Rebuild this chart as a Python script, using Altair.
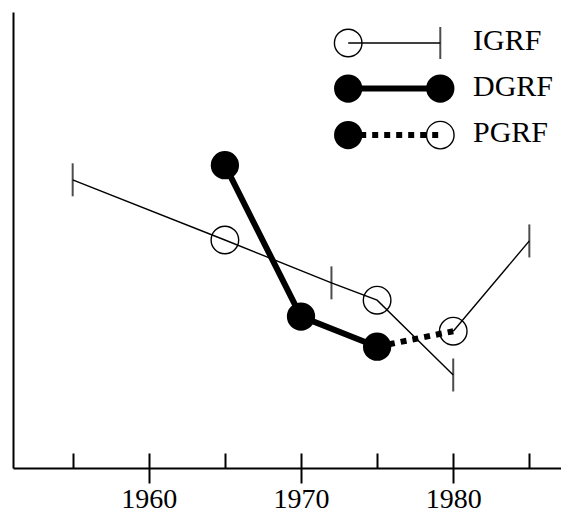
import altair as alt
import pandas as pd

# ---- data (arbitrary vertical units, the y axis is unlabelled) ----
igrf_years = [1955, 1965, 1972, 1975, 1980]
igrf_values = [63.2, 50.0, 40.6, 36.8, 20.4]
igrf_next_years = [1980, 1985]
igrf_next_values = [30.0, 49.8]
igrf_tick_years = [1955, 1972, 1980, 1985]
igrf_tick_values = [63.2, 40.6, 20.4, 49.8]
igrf_circle_years = [1965, 1975]
igrf_circle_values = [50.0, 36.8]
dgrf_years = [1965, 1970, 1975]
dgrf_values = [66.4, 33.2, 26.6]
pgrf_years = [1975, 1980]
pgrf_values = [26.6, 30.0]
pgrf_circle_years = [1980]
pgrf_circle_values = [30.0]

major_ticks = [1960, 1970, 1980]
minor_ticks = [1955, 1960, 1965, 1970, 1975, 1980, 1985]

legend_labels = ["IGRF", "DGRF", "PGRF"]

# ---- layout ----
W, H = 548, 456
FONT = "Liberation Serif"
xscale = alt.Scale(domain=[1951.08, 1987.08], nice=False, zero=False)
yscale = alt.Scale(domain=[0, 100], nice=False, zero=False)

# legend placement (in plot coordinates)
LEG_X0, LEG_X1, LEG_XT = 1973.1, 1979.15, 1981.3
LEG_ROWS = [93.2, 83.2, 73.0]


def df(xs, ys):
    return pd.DataFrame({"year": xs, "value": ys})


def X(axis=None):
    return alt.X("year:Q", scale=xscale, axis=axis)


def Y(axis=None):
    return alt.Y("value:Q", scale=yscale, axis=axis)


major_axis = alt.Axis(values=major_ticks, format="d", tickSize=15, tickWidth=2,
                      tickColor="black", domainColor="black", domainWidth=2,
                      labelFont=FONT, labelFontSize=28, labelColor="black",
                      labelPadding=2, labelFlush=False, grid=False, title=None)
minor_axis = alt.Axis(orient="bottom", offset=-15, values=minor_ticks, tickSize=15,
                      tickWidth=2, tickColor="black", domain=False, labels=False,
                      grid=False, title=None)
y_axis = alt.Axis(orient="left", domain=True, domainColor="black", domainWidth=2,
                  ticks=False, labels=False, grid=False, title=None)

CIRCLE = 760

igrf_line = alt.Chart(df(igrf_years, igrf_values)).mark_line(
    color="black", strokeWidth=1.4).encode(X(major_axis), Y(y_axis))
igrf_next = alt.Chart(df(igrf_next_years, igrf_next_values)).mark_line(
    color="black", strokeWidth=1.4).encode(X(minor_axis), Y())
igrf_ticks = alt.Chart(df(igrf_tick_years, igrf_tick_values)).mark_tick(
    orient="vertical", color="black", size=33, thickness=2).encode(X(), Y())
igrf_circles = alt.Chart(df(igrf_circle_years, igrf_circle_values)).mark_point(
    shape="circle", filled=False, color="black", strokeWidth=1.4, size=CIRCLE,
    opacity=1).encode(X(), Y())
dgrf_line = alt.Chart(df(dgrf_years, dgrf_values)).mark_line(
    color="black", strokeWidth=6).encode(X(), Y())
pgrf_line = alt.Chart(df(pgrf_years, pgrf_values)).mark_line(
    color="black", strokeWidth=6, strokeDash=[6, 6], strokeCap="butt").encode(X(), Y())
pgrf_circle = alt.Chart(df(pgrf_circle_years, pgrf_circle_values)).mark_point(
    shape="circle", filled=False, color="black", strokeWidth=1.4, size=CIRCLE,
    opacity=1).encode(X(), Y())
dgrf_points = alt.Chart(df(dgrf_years, dgrf_values)).mark_circle(
    color="black", size=CIRCLE + 40, opacity=1).encode(X(), Y())

# ---- legend ----
r1, r2, r3 = LEG_ROWS
leg_igrf_line = alt.Chart(df([LEG_X0, LEG_X1], [r1, r1])).mark_line(
    color="black", strokeWidth=1.4).encode(X(), Y())
leg_igrf_tick = alt.Chart(df([LEG_X1], [r1])).mark_tick(
    orient="vertical", color="black", size=32, thickness=2).encode(X(), Y())
leg_igrf_circle = alt.Chart(df([LEG_X0], [r1])).mark_point(
    shape="circle", filled=False, color="black", strokeWidth=1.4, size=CIRCLE,
    opacity=1).encode(X(), Y())
leg_dgrf_line = alt.Chart(df([LEG_X0, LEG_X1], [r2, r2])).mark_line(
    color="black", strokeWidth=6).encode(X(), Y())
leg_dgrf_pts = alt.Chart(df([LEG_X0, LEG_X1], [r2, r2])).mark_circle(
    color="black", size=CIRCLE + 40, opacity=1).encode(X(), Y())
leg_pgrf_line = alt.Chart(df([LEG_X0, LEG_X1], [r3, r3])).mark_line(
    color="black", strokeWidth=6, strokeDash=[6, 6], strokeCap="butt").encode(X(), Y())
leg_pgrf_pt = alt.Chart(df([LEG_X0], [r3])).mark_circle(
    color="black", size=CIRCLE + 40, opacity=1).encode(X(), Y())
leg_pgrf_circle = alt.Chart(df([LEG_X1], [r3])).mark_point(
    shape="circle", filled=False, color="black", strokeWidth=1.4, size=CIRCLE,
    opacity=1).encode(X(), Y())
leg_text = alt.Chart(pd.DataFrame({"year": [LEG_XT] * 3, "value": LEG_ROWS,
                                   "label": legend_labels})).mark_text(
    font=FONT, fontSize=30, color="black", align="left", baseline="middle", dy=-2
).encode(X(), Y(), text="label:N")

chart = alt.layer(
    igrf_line, igrf_next, igrf_ticks, igrf_circles,
    dgrf_line, pgrf_line, pgrf_circle, dgrf_points,
    leg_igrf_line, leg_igrf_tick, leg_igrf_circle,
    leg_dgrf_line, leg_dgrf_pts, leg_pgrf_line, leg_pgrf_pt, leg_pgrf_circle,
    leg_text,
).resolve_axis(x="independent", y="independent").properties(
    width=W, height=H,
    padding={"left": 5, "top": 4, "right": 0, "bottom": 45},
    autosize=alt.AutoSizeParams(type="none"),
    background="white",
).configure_view(stroke=None)

chart.save("out.html", embed_options={"renderer": "svg", "actions": False})
